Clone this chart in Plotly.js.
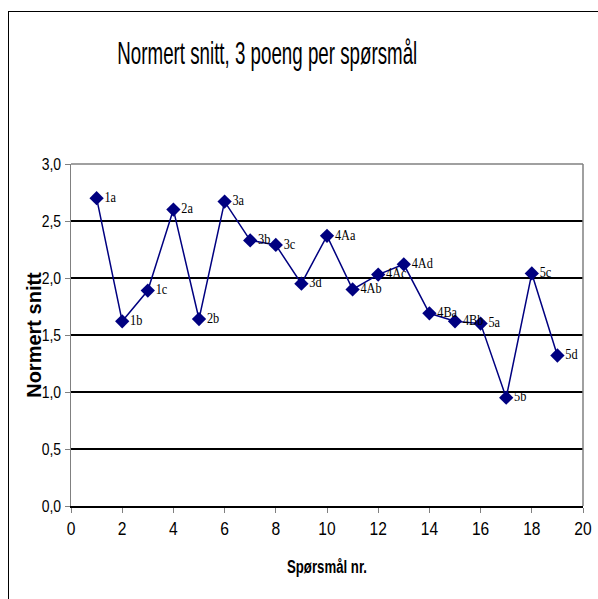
<!DOCTYPE html>
<html>
<head>
<meta charset="utf-8">
<script src="https://cdn.plot.ly/plotly-3.0.1.min.js"></script>
<style>
html,body{margin:0;padding:0;background:#fff;}
#frame{position:absolute;left:8px;top:11px;width:700px;height:700px;border-left:1.5px solid #000;border-top:1.5px solid #000;pointer-events:none;z-index:5;}
#chart{width:598px;height:599px;}
</style>
</head>
<body>
<div id="frame"></div>
<div id="chart"></div>
<script>
const questionNr = [1,2,3,4,5,6,7,8,9,10,11,12,13,14,15,16,17,18,19];
const average = [2.70,1.62,1.89,2.60,1.64,2.67,2.33,2.29,1.95,2.37,1.90,2.03,2.12,1.69,1.62,1.60,0.95,2.04,1.32];
const labels = ['1a','1b','1c','2a','2b','3a','3b','3c','3d','4Aa','4Ab','4Ac','4Ad','4Ba','4Bb','5a','5b','5c','5d'];
const xTicks = [0,2,4,6,8,10,12,14,16,18,20];
const yTicks = [0,0.5,1,1.5,2,2.5,3];

const trace = {
  x: questionNr, y: average, text: labels,
  mode: 'lines+markers+text',
  textposition: 'middle right',
  textfont: {family: 'Liberation Serif, Times New Roman, serif', size: 15, color: '#000'},
  line: {color: '#000080', width: 1.5},
  marker: {symbol: 'diamond', size: 11, color: '#000080'},
  cliponaxis: false,
  hoverinfo: 'none'
};

const layout = {
  width: 598, height: 599,
  margin: {l: 71, r: 15, t: 164, b: 93},
  paper_bgcolor: '#fff', plot_bgcolor: '#fff',
  separators: ',.',
  showlegend: false,
  font: {family: 'Liberation Sans, Arial, sans-serif', color: '#000'},
  title: {text: 'Normert snitt, 3 poeng per spørsmål', x: 0.447, xanchor: 'center', y: 0.912, yanchor: 'middle',
          font: {family: 'Liberation Sans, Arial, sans-serif', size: 31, color: '#000'}},
  xaxis: {
    range: [0, 20], tickvals: xTicks, ticktext: xTicks.map(String),
    showgrid: false, zeroline: false,
    showline: true, linecolor: '#000', linewidth: 1.5,
    ticks: 'outside', ticklen: 5, tickcolor: '#808080', tickwidth: 1,
    tickfont: {family: 'Liberation Sans, Arial, sans-serif', size: 19},
    title: {text: 'Spørsmål nr.', standoff: 22, font: {family: 'Liberation Sans, Arial, sans-serif', size: 18, weight: 'bold'}}
  },
  yaxis: {
    range: [0, 3], tickvals: yTicks, tickformat: '.1f',
    showgrid: true, gridcolor: '#000', gridwidth: 1.3,
    zeroline: false,
    showline: true, linecolor: '#808080', linewidth: 1.5,
    ticks: 'outside', ticklen: 5, tickcolor: '#808080', tickwidth: 1,
    tickfont: {family: 'Liberation Sans, Arial, sans-serif', size: 17},
    title: {text: 'Normert snitt', standoff: 2, font: {family: 'Liberation Sans, Arial, sans-serif', size: 20, weight: 'bold'}}
  },
  shapes: [
    {type: 'line', xref: 'paper', yref: 'paper', x0: 0, x1: 1, y0: 1, y1: 1, line: {color: '#808080', width: 1.5}},
    {type: 'line', xref: 'paper', yref: 'paper', x0: 1, x1: 1, y0: 0, y1: 1, line: {color: '#808080', width: 1.5}}
  ]
};

function squeeze(sel, factor, fixed) {
  document.querySelectorAll(sel).forEach(function (t) {
    const w = t.getComputedTextLength();
    if (!w) return;
    t.setAttribute('lengthAdjust', 'spacingAndGlyphs');
    t.setAttribute('textLength', fixed ? fixed : (w * factor).toFixed(1));
  });
}

function scaleX(sel, targetWidth) {
  document.querySelectorAll(sel).forEach(function (t) {
    const b = t.getBBox();
    if (!b.width) return;
    const s = targetWidth / b.width;
    const cx = b.x + b.width / 2;
    const tr = t.getAttribute('transform') || '';
    t.setAttribute('transform', 'translate(' + (cx * (1 - s)).toFixed(2) + ',0) scale(' + s.toFixed(4) + ',1) ' + tr);
  });
}

Plotly.newPlot('chart', [trace], layout, {displayModeBar: false, staticPlot: true}).then(function () {
  scaleX('.gtitle', 300);
  squeeze('.xtitle', 1, 80);
  squeeze('.xtick text', 0.82);
  squeeze('.ytick text', 0.82);
  squeeze('.textpoint text', 0.82);
  document.querySelectorAll('.ytitle').forEach(function (t) {
    const tr = t.getAttribute('transform') || '';
    t.setAttribute('transform', 'translate(12,0) ' + tr);
  });
});
</script>
</body>
</html>
